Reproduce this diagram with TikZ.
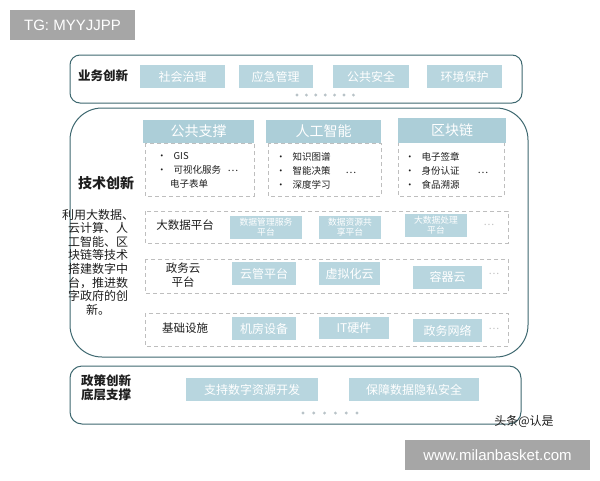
\documentclass[tikz,border=0pt]{standalone}
\usepackage{fontspec}
\setmainfont{Noto Sans CJK SC}
\newfontfamily\latinsans{Liberation Sans}
\definecolor{frame}{RGB}{62,104,112}
\definecolor{tagfill}{RGB}{184,214,223}
\definecolor{headfill}{RGB}{172,206,216}
\definecolor{dashgray}{RGB}{190,190,190}
\definecolor{wmgray}{RGB}{166,166,166}
\definecolor{ink}{RGB}{30,30,30}
\definecolor{dotgray}{RGB}{185,195,200}
\begin{document}
\begin{tikzpicture}[x=1pt,y=-1pt,
  outer/.style={draw=frame,line width=1pt,fill=white},
  tag/.style={fill=tagfill,text=white,inner sep=0pt,font=\fontsize{12}{13}\selectfont},
  smalltag/.style={tag,align=center,font=\fontsize{8.8}{9.6}\selectfont},
  head/.style={fill=headfill,text=white,inner sep=0pt,font=\fontsize{14}{15}\selectfont},
  dashbox/.style={draw=dashgray,dashed,line width=0.7pt,dash pattern=on 4pt off 3pt},
  lbl/.style={text=ink,inner sep=0pt,font=\bfseries\fontsize{12.5}{14}\selectfont},
  rowlbl/.style={text=ink,inner sep=0pt,align=center,font=\fontsize{11.5}{13.5}\selectfont},
  item/.style={text=ink,inner sep=0pt,anchor=west,font=\fontsize{9.5}{11}\selectfont},
  more/.style={text=ink,inner sep=0pt,font=\fontsize{10}{11}\selectfont},
  wm/.style={fill=wmgray,text=white,inner sep=0pt,font=\latinsans\fontsize{15}{16}\selectfont}]
\useasboundingbox (0,0) rectangle (600,480);

% watermark tags
\node[wm,minimum width=125pt,minimum height=30pt] (tg) at (72.5,25) {TG: MYYJJPP};
\node[wm,minimum width=185pt,minimum height=30pt] (url) at (497.5,455) {www.milanbasket.com};

% ===== top box =====
\draw[outer,rounded corners=10pt] (70,55) rectangle (522,103);
\node[lbl,font=\bfseries\fontsize{12.5}{14}\selectfont] (ywcx) at (103,76) {业务创新};
\node[tag,minimum width=85pt,minimum height=23pt] (t1) at (182.5,76.5) {社会治理};
\node[tag,minimum width=74pt,minimum height=23pt] (t2) at (275.5,76.5) {应急管理};
\node[tag,minimum width=76pt,minimum height=23pt] (t3) at (371,76.5) {公共安全};
\node[tag,minimum width=75pt,minimum height=23pt] (t4) at (464.5,76.5) {环境保护};
\foreach \i in {0,...,6} \fill[dotgray] (297+9.4*\i,95) circle (1.6pt);

% ===== middle box =====
\draw[outer,rounded corners=32pt] (70,108) rectangle (528,357);
\node[lbl,font=\bfseries\fontsize{14}{15}\selectfont] (jscx) at (106,183) {技术创新};
\node[text=ink,inner sep=0pt,align=center,font=\fontsize{12}{13.6}\selectfont] (desc) at (98,262)
  {利用大数据、\\云计算、人\\工智能、区\\块链等技术\\搭建数字中\\台，推进数\\字政府的创\\新。};

% three header columns
\draw[dashbox] (145,143) rectangle (254,196);
\draw[dashbox] (268,143) rectangle (381,196);
\draw[dashbox] (398,142) rectangle (504,196);
\node[head,minimum width=111pt,minimum height=23pt] (h1) at (198.5,131.5) {公共支撑};
\node[head,minimum width=115pt,minimum height=23pt] (h2) at (323.5,131.5) {人工智能};
\node[head,minimum width=108pt,minimum height=25pt] (h3) at (452,130.5) {区块链};

\node[item] (a1) at (157,156) {•\hspace{7pt}GIS};
\node[item] (a2) at (157,170) {•\hspace{7pt}可视化服务};
\node[item] (a3) at (170,184) {电子表单};
\node[more] (am) at (233,171) {…};

\node[item] (b1) at (276,157) {•\hspace{7pt}知识图谱};
\node[item] (b2) at (276,171) {•\hspace{7pt}智能决策};
\node[item] (b3) at (276,185) {•\hspace{7pt}深度学习};
\node[more] (bm) at (351,173) {…};

\node[item] (c1) at (405,157) {•\hspace{7pt}电子签章};
\node[item] (c2) at (405,171) {•\hspace{7pt}身份认证};
\node[item] (c3) at (405,185) {•\hspace{7pt}食品溯源};
\node[more] (cm) at (483,173) {…};

% row: big data
\draw[dashbox] (145,211) rectangle (508,243);
\node[rowlbl] (r1) at (185,225) {大数据平台};
\node[smalltag,minimum width=72pt,minimum height=23pt] (d1) at (266,227) {数据管理服务\\平台};
\node[smalltag,minimum width=62pt,minimum height=23pt] (d2) at (350,227) {数据资源共\\享平台};
\node[smalltag,minimum width=62pt,minimum height=23pt] (d3) at (436,225) {大数据处理\\平台};
\node[more,text=dashgray] (dm) at (489,225) {…};

% row: gov cloud
\draw[dashbox] (145,259) rectangle (508,293);
\node[rowlbl] (r2) at (183,275) {政务云\\平台};
\node[tag,minimum width=64pt,minimum height=23pt] (e1) at (264,273.5) {云管平台};
\node[tag,minimum width=61pt,minimum height=23pt] (e2) at (349.5,273.5) {虚拟化云};
\node[tag,minimum width=69pt,minimum height=23pt] (e3) at (447.5,277) {容器云};
\node[more,text=dashgray] (em) at (494,274) {…};

% row: infrastructure
\draw[dashbox] (145,313) rectangle (508,346);
\node[rowlbl] (r3) at (185,328) {基础设施};
\node[tag,minimum width=64pt,minimum height=23pt] (f1) at (264,328.5) {机房设备};
\node[tag,minimum width=70pt,minimum height=22pt] (f2) at (354,328) {IT硬件};
\node[tag,minimum width=69pt,minimum height=23pt] (f3) at (447.5,330.5) {政务网络};
\node[more,text=dashgray] (fm) at (494,329) {…};

% ===== bottom box =====
\draw[outer,rounded corners=12pt] (70,366) rectangle (521,424);
\node[lbl,align=left,anchor=west,font=\bfseries\fontsize{12.5}{14.5}\selectfont] (zccx) at (81,388) {政策创新\\底层支撑};
\node[tag,minimum width=132pt,minimum height=23pt] (g1) at (252,389.5) {支持数字资源开发};
\node[tag,minimum width=130pt,minimum height=23pt] (g2) at (414,389.5) {保障数据隐私安全};
\foreach \i in {0,...,5} \fill[dotgray] (303+10.8*\i,413) circle (1.6pt);

% source credit
\node[text=ink,inner sep=0pt,font=\fontsize{12}{13}\selectfont] (src) at (524,421) {头条@认是};
\end{tikzpicture}
\end{document}
